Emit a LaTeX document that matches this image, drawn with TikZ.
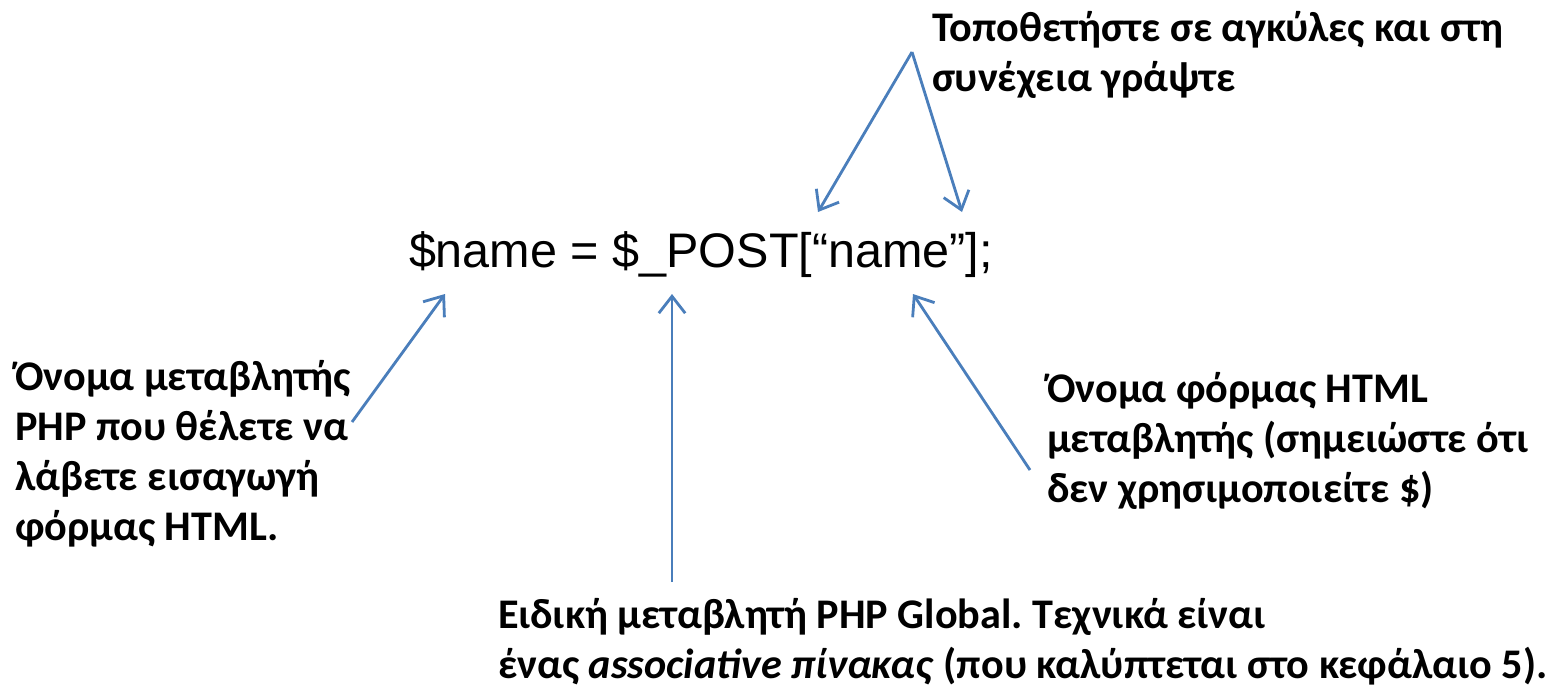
\documentclass[tikz,border=0pt]{standalone}
\usepackage{fontspec}
\setmainfont{Carlito}
\newfontfamily\codefont{Liberation Sans}
\usetikzlibrary{arrows.meta}
\definecolor{arrowblue}{HTML}{4A7EBB}
\frenchspacing
\begin{document}
\begin{tikzpicture}[
    x=0.01cm, y=-0.01cm,
    every node/.style={inner sep=0pt, outer sep=0pt},
    note/.style={anchor=base west, align=left, font=\fontsize{12}{14.2}\selectfont\bfseries},
    codeline/.style={anchor=base west, font=\fontsize{13.8}{17}\selectfont\codefont},
    pointer/.style={draw=arrowblue, line width=0.8pt,
        -{Straight Barb[length=4.8pt, width=7.5pt, line width=0.8pt]}}
]
    \useasboundingbox (0,0) rectangle (1564,690);

    \node[codeline] (code) at (409,267) {\$name = \$\_POST[“name”];};

    % multi-line notes sit on the baseline of their last line
    \node[note] (topnote) at (932,91) {Τοποθετήστε σε αγκύλες και στη\\συνέχεια γράψτε};
    \node[note] (leftnote) at (15,540) {Όνομα μεταβλητής\\PHP που θέλετε να\\λάβετε εισαγωγή\\φόρμας HTML.};
    \node[note] (rightnote) at (1047,502) {Όνομα φόρμας HTML\\μεταβλητής (σημειώστε ότι\\δεν χρησιμοποιείτε \$)};
    \node[note] (bottomnote) at (498,678) {Ειδική μεταβλητή PHP Global. Τεχνικά είναι\\ένας \textit{associative πίνακας} (που καλύπτεται στο κεφάλαιο 5).};

    % arrow ends
    \coordinate (apex) at (912,52);
    \coordinate (brackL) at (818,212);
    \coordinate (brackR) at (962,212);
    \coordinate (varname) at (445,294);
    \coordinate (leftfoot) at (352,422);
    \coordinate (post) at (672,294);
    \coordinate (postfoot) at (672,582);
    \coordinate (key) at (913,294);
    \coordinate (keyfoot) at (1030,470);

    \draw[pointer] (apex) -- (brackL);
    \draw[pointer] (apex) -- (brackR);
    \draw[pointer] (leftfoot) -- (varname);
    \draw[pointer] (postfoot) -- (post);
    \draw[pointer] (keyfoot) -- (key);
\end{tikzpicture}
\end{document}
